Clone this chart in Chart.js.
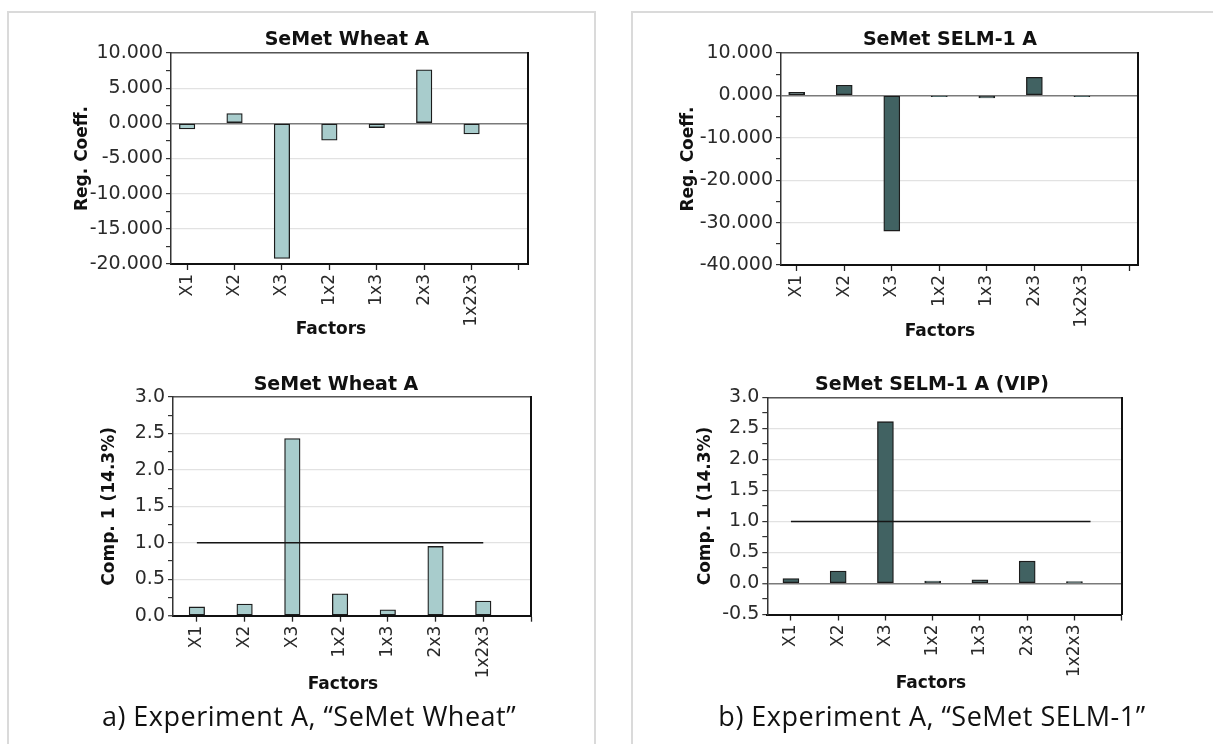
<!DOCTYPE html>
<html>
<head>
<meta charset="utf-8">
<script src="https://cdn.jsdelivr.net/npm/chart.js@4.4.1/dist/chart.umd.min.js"></script>
<style>
  body { margin: 0; background: #fff; width: 1213px; height: 744px; overflow: hidden; position: relative; font-family: "Open Sans", sans-serif; }
  .panel { position: absolute; border: 2px solid #dadada; box-sizing: border-box; }
  .box { position: absolute; }
  .label { position: absolute; font-family: "DejaVu Sans", sans-serif; font-weight: bold; color: #111; white-space: nowrap; transform: translateX(-50%); }
  .title { font-size: 19px; line-height: 24px; }
  .axis { font-size: 17px; line-height: 22px; }
  .caption { position: absolute; font-size: 27px; line-height: 34px; letter-spacing: 0.5px; color: #111; white-space: nowrap; transform: translateX(-50%); }
</style>
</head>
<body>
<div class="panel" style="left:7px; top:11px; width:589px; height:760px"></div>
<div class="panel" style="left:631px; top:11px; width:600px; height:760px"></div>

<div class="box" style="left:0; top:0; width:600px; height:360px"><canvas id="wheat-coef"></canvas></div>
<div class="box" style="left:600px; top:0; width:613px; height:360px"><canvas id="selm-coef"></canvas></div>
<div class="box" style="left:0; top:360px; width:600px; height:340px"><canvas id="wheat-vip"></canvas></div>
<div class="box" style="left:600px; top:360px; width:613px; height:340px"><canvas id="selm-vip"></canvas></div>

<div class="label title" style="left:347px; top:26px">SeMet Wheat A</div>
<div class="label title" style="left:950px; top:26px">SeMet SELM-1 A</div>
<div class="label title" style="left:336px; top:371px">SeMet Wheat A</div>
<div class="label title" style="left:932px; top:371px">SeMet SELM-1 A (VIP)</div>

<div class="label axis" style="left:331px; top:317px">Factors</div>
<div class="label axis" style="left:940px; top:319px">Factors</div>
<div class="label axis" style="left:343px; top:672px">Factors</div>
<div class="label axis" style="left:931px; top:671px">Factors</div>

<div class="caption" style="left:309px; top:699px">a) Experiment A, “SeMet Wheat”</div>
<div class="caption" style="left:932px; top:699px">b) Experiment A, “SeMet SELM-1”</div>

<script>
const FONT = '"DejaVu Sans", sans-serif';

// factor names, one slot per bar; slot 8 is an empty tick at the right edge
const factors = ['X1', 'X2', 'X3', '1x2', '1x3', '2x3', '1x2x3'];
const factorSlots = [1, 2, 3, 4, 5, 6, 7, 8];

// regression coefficients
const wheatCoef = [-0.8, 1.4, -19.2, -2.4, -0.6, 7.6, -1.5];
const selmCoef = [0.7, 2.4, -32.0, -0.3, -0.6, 4.25, -0.3];

// VIP scores, first component
const wheatVip = [0.12, 0.16, 2.43, 0.30, 0.08, 0.95, 0.20];
const selmVip = [0.08, 0.20, 2.61, 0.04, 0.06, 0.36, 0.03];

// VIP = 1 cut-off line (x, y)
const wheatCutoff = [[1, 1.0], [7, 1.0]];
const selmCutoff = [[1, 1.0], [7.34, 1.0]];

// y tick labels
const wheatCoefTicks = [-20, -15, -10, -5, 0, 5, 10];
const selmCoefTicks = [-40, -30, -20, -10, 0, 10];
const wheatVipTicks = [0, 0.5, 1, 1.5, 2, 2.5, 3];
const selmVipTicks = [-0.5, 0, 0.5, 1, 1.5, 2, 2.5, 3];

// majors plus a minor tick halfway between each pair
function withMidpoints(ticks) {
    const out = [];
    ticks.forEach((t, i) => {
        out.push(t);
        if (i < ticks.length - 1) out.push((t + ticks[i + 1]) / 2);
    });
    return out;
}

function buildChart(id, o) {
    const major = new Set(o.yTicks);
    const all = withMidpoints(o.yTicks);
    const half = (size) => size * 1.2 / 2;

    const datasets = [{
        type: 'bar',
        data: o.values.map((v, i) => ({ x: factorSlots[i], y: v })),
        backgroundColor: o.fill,
        borderColor: '#1c1c1c',
        borderWidth: 1.3,
        borderSkipped: false,
        barThickness: o.barWidth,
        order: 2
    }];
    if (o.cutoff) {
        datasets.push({
            type: 'line',
            data: o.cutoff.map(([x, y]) => ({ x, y })),
            borderColor: '#151515',
            borderWidth: 1.4,
            pointRadius: 0,
            order: 1
        });
    }

    return new Chart(document.getElementById(id), {
        type: 'bar',
        data: { datasets },
        options: {
            responsive: true,
            maintainAspectRatio: false,
            animation: false,
            layout: { padding: { left: 0, top: 0, right: o.padRight, bottom: 0 } },
            plugins: { legend: { display: false }, tooltip: { enabled: false } },
            scales: {
                x: {
                    type: 'linear',
                    position: 'bottom',
                    offset: false,
                    min: o.xMin,
                    max: o.xMax,
                    afterBuildTicks: s => { s.ticks = factorSlots.map(v => ({ value: v })); },
                    afterFit: s => { s.height = o.xHeight; },
                    ticks: {
                        autoSkip: false, minRotation: 90, maxRotation: 90, padding: 4,
                        color: '#2a2a2a', font: { family: FONT, size: 17 },
                        callback: v => factors[v - 1] || ''
                    },
                    grid: { offset: false, drawOnChartArea: false, drawTicks: true, tickLength: 6, tickColor: '#222', tickWidth: 1.3 },
                    border: { color: '#111', width: 2 }
                },
                top: {
                    type: 'linear',
                    position: 'top',
                    display: true,
                    min: 0, max: 1,
                    afterFit: s => { s.height = o.plotTop; },
                    ticks: { display: false },
                    grid: { drawOnChartArea: false, drawTicks: false },
                    border: { color: '#555', width: 1.5 }
                },
                y: {
                    type: 'linear',
                    position: 'left',
                    min: o.yTicks[0],
                    max: o.yTicks[o.yTicks.length - 1],
                    afterBuildTicks: s => { s.ticks = all.map(v => ({ value: v })); },
                    afterFit: s => { s.width = o.yWidth; },
                    ticks: {
                        autoSkip: false, padding: 3, color: '#2a2a2a',
                        font: { family: FONT, size: 19 },
                        callback: v => major.has(v) ? v.toFixed(o.digits) : ''
                    },
                    grid: {
                        drawTicks: true, tickLength: 5, tickWidth: 1.2, tickColor: '#333',
                        color: c => !major.has(c.tick.value) ? 'rgba(0,0,0,0)'
                            : (c.tick.value === 0 ? '#7a7a7a' : '#e2e2e2'),
                        lineWidth: c => c.tick.value === 0 ? 1.5 : 1.2
                    },
                    border: { color: '#333', width: 1.5 },
                    title: {
                        display: true, text: o.yTitle, color: '#111',
                        font: { family: FONT, size: 17, weight: 'bold' },
                        padding: { top: o.yTitleX - half(17), bottom: 0 }
                    }
                },
                right: {
                    type: 'linear',
                    position: 'right',
                    display: true,
                    min: 0, max: 1,
                    afterFit: s => { s.width = 0; },
                    ticks: { display: false },
                    grid: { drawOnChartArea: false, drawTicks: false },
                    border: { color: '#111', width: 2 }
                }
            }
        }
    });
}

buildChart('wheat-coef', {
    yTitle: 'Reg. Coeff.',
    values: wheatCoef, yTicks: wheatCoefTicks, digits: 3,
    fill: '#a8cccc', barWidth: 15.5,
    xMin: 0.66, xMax: 8.19,
    padRight: 72, plotTop: 53, yWidth: 171, xHeight: 96,
    yTitleX: 83
});

buildChart('selm-coef', {
    yTitle: 'Reg. Coeff.',
    values: selmCoef, yTicks: selmCoefTicks, digits: 3,
    fill: '#416262', barWidth: 16,
    xMin: 0.67, xMax: 8.18,
    padRight: 75, plotTop: 53, yWidth: 181, xHeight: 95,
    yTitleX: 89
});

buildChart('wheat-vip', {
    yTitle: 'Comp. 1 (14.3%)',
    values: wheatVip, yTicks: wheatVipTicks, digits: 1,
    fill: '#a8cccc', barWidth: 15.5, cutoff: wheatCutoff,
    xMin: 0.5, xMax: 8.0,
    padRight: 69, plotTop: 37, yWidth: 173, xHeight: 84.3,
    yTitleX: 110
});

buildChart('selm-vip', {
    yTitle: 'Comp. 1 (14.3%)',
    values: selmVip, yTicks: selmVipTicks, digits: 1,
    fill: '#416262', barWidth: 16, cutoff: selmCutoff,
    xMin: 0.5, xMax: 8.0,
    padRight: 91.3, plotTop: 37.5, yWidth: 167.3, xHeight: 85.5,
    yTitleX: 105.6
});
</script>
</body>
</html>
